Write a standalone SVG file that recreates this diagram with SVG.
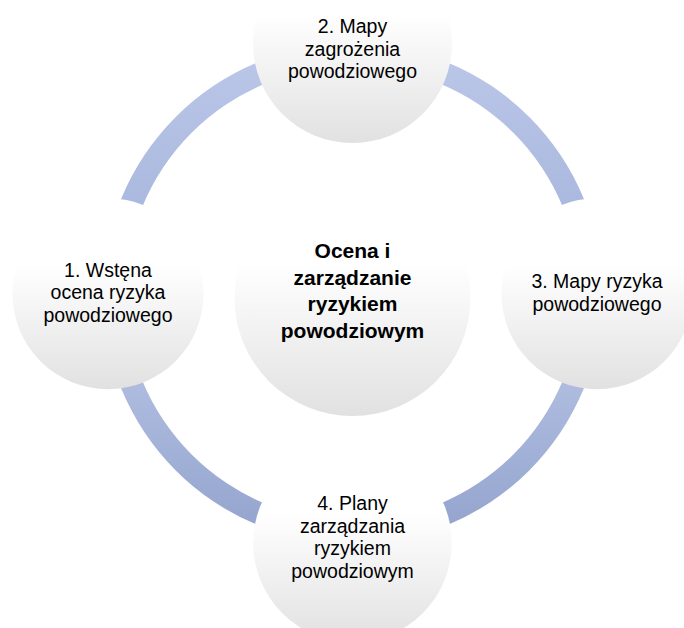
<svg xmlns="http://www.w3.org/2000/svg" width="684" height="628" viewBox="0 0 684 628">
  <style>
    .node-text { font-family: "Liberation Sans", Arial, sans-serif; font-size: 19.5px; fill: #000000; text-anchor: middle; }
    .hub-text { font-family: "Liberation Sans", Arial, sans-serif; font-size: 21px; font-weight: bold; fill: #000000; text-anchor: middle; }
    .bubble { fill: url(#bubbleFill); }
  </style>
  <defs>
    <linearGradient id="bubbleFill" x1="0" y1="0" x2="0" y2="1">
      <stop offset="0" stop-color="#ffffff"/>
      <stop offset="0.35" stop-color="#ffffff"/>
      <stop offset="1" stop-color="#e1e1e1"/>
    </linearGradient>
    <linearGradient id="ringUpper" x1="0" y1="0" x2="0" y2="1">
      <stop offset="0" stop-color="#bcc8e9"/>
      <stop offset="1" stop-color="#a0b0d8"/>
    </linearGradient>
    <linearGradient id="ringLower" x1="0" y1="0" x2="0" y2="1">
      <stop offset="0" stop-color="#bfcaea"/>
      <stop offset="1" stop-color="#91a2cc"/>
    </linearGradient>
  </defs>

  <rect x="0" y="0" width="684" height="628" fill="#ffffff"/>

  <!-- ring segments between the outer nodes -->
  <g id="connectors">
    <path d="M 102.5 293.7 A 250 250 0 0 1 352.5 43.7 L 352.5 66.2 A 227.5 227.5 0 0 0 125 293.7 Z" fill="url(#ringUpper)"/>
    <path d="M 352.5 43.7 A 250 250 0 0 1 602.5 293.7 L 580 293.7 A 227.5 227.5 0 0 0 352.5 66.2 Z" fill="url(#ringUpper)"/>
    <path d="M 602.5 293.7 A 250 250 0 0 1 352.5 543.7 L 352.5 521.2 A 227.5 227.5 0 0 0 580 293.7 Z" fill="url(#ringLower)"/>
    <path d="M 352.5 543.7 A 250 250 0 0 1 102.5 293.7 L 125 293.7 A 227.5 227.5 0 0 0 352.5 521.2 Z" fill="url(#ringLower)"/>
  </g>

  <g id="hub">
    <circle class="bubble" cx="352.5" cy="298" r="118"/>
    <text class="hub-text" x="352.5" y="258">Ocena i</text>
    <text class="hub-text" x="352.5" y="284.7">zarządzanie</text>
    <text class="hub-text" x="352.5" y="311.4">ryzykiem</text>
    <text class="hub-text" x="352.5" y="338.1">powodziowym</text>
  </g>

  <g id="node-1">
    <circle class="bubble" cx="108" cy="293.7" r="95.5"/>
    <text class="node-text" x="108" y="276.5">1. Wstęna</text>
    <text class="node-text" x="108" y="299">ocena ryzyka</text>
    <text class="node-text" x="108" y="321.5">powodziowego</text>
  </g>

  <g id="node-2">
    <circle class="bubble" cx="352.5" cy="43.5" r="99.5"/>
    <text class="node-text" x="352.5" y="33.3">2. Mapy</text>
    <text class="node-text" x="352.5" y="55.8">zagrożenia</text>
    <text class="node-text" x="352.5" y="78.3">powodziowego</text>
  </g>

  <g id="node-3">
    <circle class="bubble" cx="597" cy="293.7" r="95.5"/>
    <text class="node-text" x="597" y="288.3">3. Mapy ryzyka</text>
    <text class="node-text" x="597" y="310.8">powodziowego</text>
  </g>

  <g id="node-4">
    <circle class="bubble" cx="352.5" cy="543" r="99.3"/>
    <text class="node-text" x="352.5" y="510">4. Plany</text>
    <text class="node-text" x="352.5" y="532.7">zarządzania</text>
    <text class="node-text" x="352.5" y="555.4">ryzykiem</text>
    <text class="node-text" x="352.5" y="578.1">powodziowym</text>
  </g>
</svg>
